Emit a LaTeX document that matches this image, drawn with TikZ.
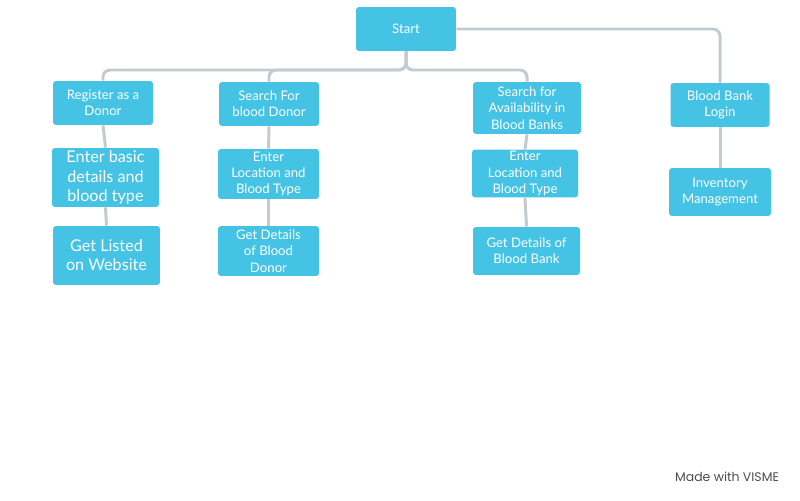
\documentclass[tikz,border=0pt]{standalone}
\usepackage{fontspec}
\setmainfont{Lato}
\newfontfamily\vismefont{Poppins}
\usepackage{xcolor}
\usepackage{tikz}
\usetikzlibrary{arrows.meta, positioning, calc}

\definecolor{boxblue}{HTML}{45C3E5}
\definecolor{linkgray}{HTML}{C2CBD2}

\tikzset{
  stepbox/.style={fill=boxblue, rounded corners=0.06cm, text=white, align=center,
    inner sep=1pt, font=\fontsize{7.5}{9.3}\selectfont},
  bigbox/.style={stepbox, font=\fontsize{9.2}{10.9}\selectfont},
  link/.style={draw=linkgray, line width=1.7pt, rounded corners=0.14cm}
}

\begin{document}
\begin{tikzpicture}[x=0.02cm, y=-0.02cm]
  \useasboundingbox (0,0) rectangle (800,500);

  % Start
  \node[stepbox, minimum width=2cm, minimum height=0.88cm] (start) at (406,29) {Start};
  \coordinate (split) at (406,70);

  % Donor branch
  \node[stepbox, minimum width=2cm, minimum height=0.88cm] (reg) at (103,103) {Register as a\\Donor};
  \node[bigbox, minimum width=2.14cm, minimum height=1.18cm] (basic) at (105.5,177.5) {Enter basic\\details and\\blood type};
  \node[bigbox, minimum width=2.14cm, minimum height=1.18cm] (listed) at (106.5,255.5) {Get Listed\\on Website};

  % Search donor branch
  \node[stepbox, minimum width=2cm, minimum height=0.88cm] (sfd) at (269,104) {Search For\\blood Donor};
  \node[stepbox, minimum width=2.02cm, minimum height=1cm] (locd) at (268.5,174) {Enter\\Location and\\Blood Type};
  \node[stepbox, minimum width=2.02cm, minimum height=1cm] (donor) at (268.5,251) {Get Details\\of Blood\\Donor};

  % Search blood bank branch
  \node[stepbox, minimum width=2.16cm, minimum height=1.04cm] (avail) at (527,108) {Search for\\Availability in\\Blood Banks};
  \node[stepbox, minimum width=2.12cm, minimum height=0.94cm] (locb) at (525,173.5) {Enter\\Location and\\Blood Type};
  \node[stepbox, minimum width=2.14cm, minimum height=0.96cm] (bank) at (526.5,251) {Get Details of\\Blood Bank};

  % Blood bank login
  \node[stepbox, minimum width=1.98cm, minimum height=0.88cm] (login) at (720,105) {Blood Bank\\Login};
  \node[stepbox, minimum width=2.04cm, minimum height=0.96cm] (inv) at (720,192) {Inventory\\Management};

  % links from start
  \draw[link] (start.south) -- (split) -| (reg.north);
  \draw[link] (start.south) -- (split) -| (sfd.north);
  \draw[link] (start.south) -- (split) -| (avail.north);
  \draw[link] (start.east) -| (login.north);

  % links down each column
  \draw[link] (reg.south) -- (basic.north);
  \draw[link] (basic.south) -- (listed.north);
  \draw[link] (sfd.south) -- (locd.north);
  \draw[link] (locd.south) -- (donor.north);
  \draw[link] (avail.south) -- (locb.north);
  \draw[link] (locb.south) -- (bank.north);
  \draw[link] (login.south) -- (inv.north);

  \node[text=black!70, font=\vismefont\fontsize{7.1}{8}\selectfont] (made) at (727,477) {Made with VISME};
\end{tikzpicture}
\end{document}
